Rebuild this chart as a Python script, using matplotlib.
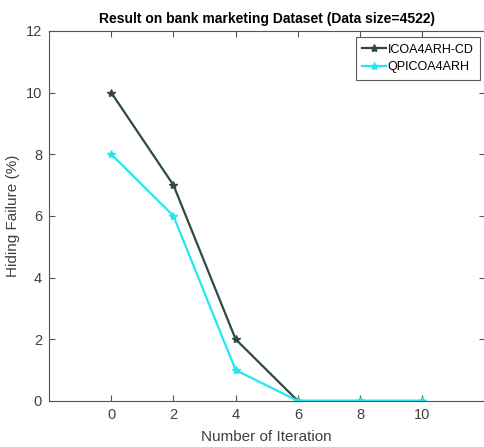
import matplotlib
matplotlib.use('Agg')
import matplotlib.pyplot as plt

plt.rcParams['font.family'] = ['Liberation Sans', 'DejaVu Sans']

iterations = [0, 2, 4, 6, 8, 10]
icoa4arh_cd = [10, 7, 2, 0, 0, 0]
qpicoa4arh = [8, 6, 1, 0, 0, 0]

fig = plt.figure(figsize=(4.84, 4.47), dpi=100)
ax = fig.add_axes([0.1012, 0.103, 0.9, 0.828])

ax.plot(iterations, icoa4arh_cd, color='#2f4a45', lw=1.6, marker='*', ms=6,
        label='ICOA4ARH-CD')
ax.plot(iterations, qpicoa4arh, color='#22e8ee', lw=1.6, marker='*', ms=6,
        label='QPICOA4ARH')

ax.set_xlim(-2, 12)
ax.set_ylim(0, 12)
ax.set_xticks([0, 2, 4, 6, 8, 10])
ax.set_yticks([0, 2, 4, 6, 8, 10, 12])
ax.tick_params(direction='in', length=4, labelsize=10.5, colors='#555555',
               top=True, right=True, labelcolor='#404040', pad=5)
for s in ax.spines.values():
    s.set_color('#555555')
ax.spines['right'].set_color('#aaaaaa')

ax.set_title('Result on bank marketing Dataset (Data size=4522)',
             fontsize=10, fontweight='bold', pad=6)
ax.set_xlabel('Number of Iteration', fontsize=11, color='#404040', labelpad=6)
ax.set_ylabel('Hiding Failure (%)', fontsize=11, color='#404040', labelpad=4)

leg = ax.legend(loc='upper right', bbox_to_anchor=(0.99, 0.984), fontsize=9,
                frameon=True, fancybox=False, edgecolor='#333333',
                handlelength=1.9, handletextpad=0.1, borderpad=0.55,
                labelspacing=0.45, borderaxespad=0)
leg.get_frame().set_linewidth(0.8)

fig.savefig('out.png', dpi=100, facecolor='white')
